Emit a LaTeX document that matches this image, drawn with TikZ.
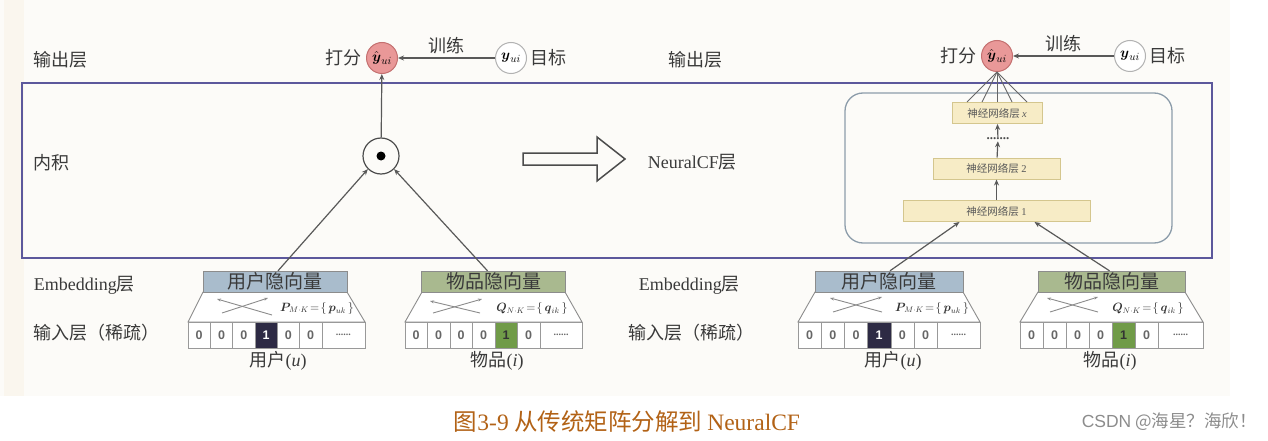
\documentclass[tikz,border=0pt]{standalone}
\usepackage{amsmath}
\usepackage{amssymb}
\usepackage{fontspec}
\setmainfont{Liberation Serif}
\newfontfamily\cjk{Noto Sans CJK SC}
\newfontfamily\sansf{Liberation Sans}
\usepackage{tikz}
\usetikzlibrary{arrows.meta}

\definecolor{txtgrey}{RGB}{58,58,58}
\definecolor{framepurple}{RGB}{92,88,156}
\definecolor{predfill}{RGB}{233,152,152}
\definecolor{preddraw}{RGB}{196,112,112}
\definecolor{userfill}{RGB}{169,188,204}
\definecolor{itemfill}{RGB}{169,185,143}
\definecolor{celldark}{RGB}{45,42,68}
\definecolor{cellgreen}{RGB}{112,155,72}
\definecolor{nnfill}{RGB}{247,236,198}
\definecolor{nndraw}{RGB}{212,198,142}
\definecolor{ncfdraw}{RGB}{140,156,170}
\definecolor{capcolor}{RGB}{178,98,22}
\definecolor{bgcolor}{RGB}{252,251,248}
\definecolor{stripcolor}{RGB}{250,246,238}

\begin{document}
\begin{tikzpicture}[x=1pt,y=1pt,yscale=-1,
    lbl/.style={font=\cjk\fontsize{18}{20}\selectfont, text=txtgrey, inner sep=0.75pt},
    pred/.style={circle, draw=preddraw, fill=predfill, line width=1, minimum size=31, inner sep=0, font=\fontsize{15}{15}\selectfont},
    target/.style={circle, draw=black!30, fill=white, line width=1, minimum size=31, inner sep=0, font=\fontsize{15}{15}\selectfont},
    arr/.style={draw=black!65, line width=1.2, -{Stealth[length=6,width=5]}},
    thin/.style={draw=black!60, line width=0.9},
    embuser/.style={draw=black!45, fill=userfill, minimum width=144, minimum height=21, inner sep=0, font=\cjk\fontsize{19}{19}\selectfont, text=txtgrey},
    embitem/.style={draw=black!45, fill=itemfill, minimum width=144, minimum height=21, inner sep=0, font=\cjk\fontsize{19}{19}\selectfont, text=txtgrey},
    trap/.style={draw=black!45, fill=white, line width=0.9},
    cross/.style={draw=black!45, line width=0.9, {Stealth[length=4,width=3]}-},
    cell/.style={draw=black!40, fill=white, minimum width=22.5, minimum height=26, inner sep=0, font=\sansf\bfseries\fontsize{12.5}{12.5}\selectfont, text=black!60},
    cellon/.style={cell, fill=celldark, text=white},
    cellgr/.style={cell, fill=cellgreen, text=black!80},
    cellmore/.style={cell, font=\bfseries\fontsize{10}{10}\selectfont},
    formula/.style={inner sep=0, font=\fontsize{11.5}{11.5}\selectfont, text=black!80},
    nnbox/.style={draw=nndraw, fill=nnfill, line width=1, minimum height=21, inner sep=0, font=\cjk\fontsize{10.5}{11}\selectfont, text=black!65},
    caption/.style={inner sep=0, text=capcolor, font=\cjk\fontsize{23.5}{25}\selectfont},
    wmark/.style={inner sep=0, text=black!45, font=\cjk\fontsize{17.5}{19}\selectfont}]
        \useasboundingbox (0,0) rectangle (1268,441);

        %Shape: Background
        \fill [bgcolor] (0,0) rectangle (1230,396);
        \fill [stripcolor] (4,0) rectangle (24,396);
        %Shape: Rectangle (main frame)
        \draw [framepurple, line width=2.6] (22,83) rectangle (1212,258);

        % Text Node (layer names, left)
        \node [lbl, anchor=west] (outL) at (33,60) {输出层};
        \node [lbl, anchor=west] (dotL) at (33,163) {内积};
        \node [lbl, anchor=west] (embL) at (33,285) {{\rmfamily Embedding}层};
        \node [lbl, anchor=west] (inL) at (33,333) {输入层（稀疏）};
        % Text Node (layer names, right)
        \node [lbl, anchor=west] (outR) at (668,60) {输出层};
        \node [lbl, anchor=west] (ncfR) at (647,162) {{\rmfamily NeuralCF}层};
        \node [lbl, anchor=west] (embR) at (638,285) {{\rmfamily Embedding}层};
        \node [lbl, anchor=west] (inR) at (628,333) {输入层（稀疏）};

        %Output layer, left
        \node [pred] (yhatL) at (382,58) {$\hat{\boldsymbol{y}}_{ui}$};
        \node [target] (ytrueL) at (511,58) {$\boldsymbol{y}_{ui}$};
        \node [lbl, anchor=east] (scoreL) at ([xshift=-4]yhatL.west) {打分};
        \node [lbl, anchor=west] (goalL) at ([xshift=3]ytrueL.east) {目标};
        \draw [arr] (ytrueL) -- (yhatL) node [lbl, midway, above=3pt] (trainL) {训练};

        %Output layer, right
        \node [pred] (yhatR) at (997,56) {$\hat{\boldsymbol{y}}_{ui}$};
        \node [target] (ytrueR) at (1130,56) {$\boldsymbol{y}_{ui}$};
        \node [lbl, anchor=east] (scoreR) at ([xshift=-4]yhatR.west) {打分};
        \node [lbl, anchor=west] (goalR) at ([xshift=3]ytrueR.east) {目标};
        \draw [arr] (ytrueR) -- (yhatR) node [lbl, midway, above=3pt] (trainR) {训练};

        %Inner product
        \node [circle, draw=black!70, line width=1.2, minimum size=36, inner sep=0] (inner) at (381,156) {};
        \fill [black] (inner.center) circle (4.5);
        \draw [arr] (inner) -- (yhatL);

        %Hollow arrow
        \draw [black!70, line width=1.5, line join=miter] (523,153) -- (597,153) -- (597,137) -- (625,159) -- (597,181) -- (597,165) -- (523,165) -- cycle;

        %NeuralCF layer
        \draw [ncfdraw, line width=1.3, rounded corners=18] (845,93) rectangle (1172,243);
        \node [nnbox, minimum width=90] (nnx) at (997,113) {神经网络层 {\rmfamily\itshape x}};
        \node [inner sep=1, font=\bfseries\fontsize{13}{13}\selectfont, text=black!70] (dots) at (998,139) {.......};
        \node [nnbox, minimum width=127] (nn2) at (996.5,168.5) {神经网络层 {\rmfamily 2}};
        \node [nnbox, minimum width=187] (nn1) at (996.5,211) {神经网络层 {\rmfamily 1}};
        \draw [arr] (nn1) -- (nn2);
        \draw [arr] (nn2) -- (dots);
        \draw [arr] (dots) -- (nnx);
        \draw [thin] (yhatR.south) -- ([xshift=-30]nnx.north);
        \draw [thin] (yhatR.south) -- ([xshift=-15]nnx.north);
        \draw [thin] (yhatR.south) -- (nnx.north);
        \draw [thin] (yhatR.south) -- ([xshift=15]nnx.north);
        \draw [thin] (yhatR.south) -- ([xshift=30]nnx.north);

        %User block, left
        \draw [trap] (203,292) -- (347,292) -- (365,322) -- (188,322) -- cycle;
        \node [embuser] (uembL) at (275,281.5) {用户隐向量};
        \draw [cross] (217,299) -- (272,315);
        \draw [cross] (268,298) -- (222,313);
        \node [formula] (pL) at (317,308) {$\boldsymbol{P}_{\!M\cdot K}\!=\!\{\,\boldsymbol{p}_{uk}\,\}$};
        \node [cell] (uL1) at (199.2,335) {0};
        \node [cell] (uL2) at (221.5,335) {0};
        \node [cell] (uL3) at (243.8,335) {0};
        \node [cellon] (uL4) at (266.1,335) {1};
        \node [cell] (uL5) at (288.4,335) {0};
        \node [cell] (uL6) at (310.7,335) {0};
        \node [cellmore, minimum width=43.2] (uL7) at (343.4,335) {......};
        \node [lbl] (uLname) at (278,361) {用户{\rmfamily(\itshape u\/\upshape)}};

        %Item block, left
        \draw [trap] (422,292) -- (565,292) -- (582,322) -- (405,322) -- cycle;
        \node [embitem] (iembL) at (493.5,281.5) {物品隐向量};
        \draw [cross] (430,301) -- (480,313);
        \draw [cross] (482,299) -- (433,313);
        \node [formula] (qL) at (532,308) {$\boldsymbol{Q}_{N\cdot K}\!=\!\{\,\boldsymbol{q}_{ik}\,\}$};
        \node [cell] (iL1) at (416.2,335) {0};
        \node [cell] (iL2) at (438.7,335) {0};
        \node [cell] (iL3) at (461.2,335) {0};
        \node [cell] (iL4) at (483.7,335) {0};
        \node [cellgr] (iL5) at (506.2,335) {1};
        \node [cell] (iL6) at (528.7,335) {0};
        \node [cellmore, minimum width=42] (iL7) at (561,335) {......};
        \node [lbl] (iLname) at (497,361) {物品{\rmfamily(\itshape i\/\upshape)}};

        \draw [arr] ([xshift=3]uembL.north) -- (inner.south west);
        \draw [arr] ([xshift=-6]iembL.north) -- (inner.south east);

        %User block, right
        \draw [trap] (815,292) -- (963,292) -- (980,322) -- (798,322) -- cycle;
        \node [embuser, minimum width=148] (uembR) at (889,281.5) {用户隐向量};
        \draw [cross] (830,298) -- (882,312);
        \draw [cross] (882,297) -- (833,312);
        \node [formula] (pR) at (932,308) {$\boldsymbol{P}_{\!M\cdot K}\!=\!\{\,\boldsymbol{p}_{uk}\,\}$};
        \node [cell, minimum width=23.2] (uR1) at (809.6,335) {0};
        \node [cell, minimum width=23.2] (uR2) at (832.8,335) {0};
        \node [cell, minimum width=23.2] (uR3) at (856,335) {0};
        \node [cellon, minimum width=23.2] (uR4) at (879.2,335) {1};
        \node [cell, minimum width=23.2] (uR5) at (902.4,335) {0};
        \node [cell, minimum width=23.2] (uR6) at (925.6,335) {0};
        \node [cellmore, minimum width=42.8] (uR7) at (958.6,335) {......};
        \node [lbl] (uRname) at (893,361) {用户{\rmfamily(\itshape u\/\upshape)}};

        %Item block, right
        \draw [trap] (1038,292) -- (1185,292) -- (1203,322) -- (1020,322) -- cycle;
        \node [embitem, minimum width=147] (iembR) at (1111.5,281.5) {物品隐向量};
        \draw [cross] (1047,298) -- (1098,312);
        \draw [cross] (1098,297) -- (1050,312);
        \node [formula] (qR) at (1148,308) {$\boldsymbol{Q}_{N\cdot K}\!=\!\{\,\boldsymbol{q}_{ik}\,\}$};
        \node [cell, minimum width=23] (iR1) at (1031.5,335) {0};
        \node [cell, minimum width=23] (iR2) at (1054.5,335) {0};
        \node [cell, minimum width=23] (iR3) at (1077.5,335) {0};
        \node [cell, minimum width=23] (iR4) at (1100.5,335) {0};
        \node [cellgr, minimum width=23] (iR5) at (1123.5,335) {1};
        \node [cell, minimum width=23] (iR6) at (1146.5,335) {0};
        \node [cellmore, minimum width=45] (iR7) at (1180.5,335) {......};
        \node [lbl] (iRname) at (1110,361) {物品{\rmfamily(\itshape i\/\upshape)}};

        \draw [arr] ([xshift=1]uembR.north) -- ([xshift=-37]nn1.south);
        \draw [arr] ([xshift=-2]iembR.north) -- ([xshift=38]nn1.south);

        % Text Node (caption)
        \node [caption] (cap) at (627,422) {图{\rmfamily 3-9} 从传统矩阵分解到 {\rmfamily NeuralCF}};
        % Text Node (watermark)
        \node [wmark, anchor=east] (wm) at (1257,422) {{\sansf CSDN} @海星？海欣！};

\end{tikzpicture}
\end{document}
